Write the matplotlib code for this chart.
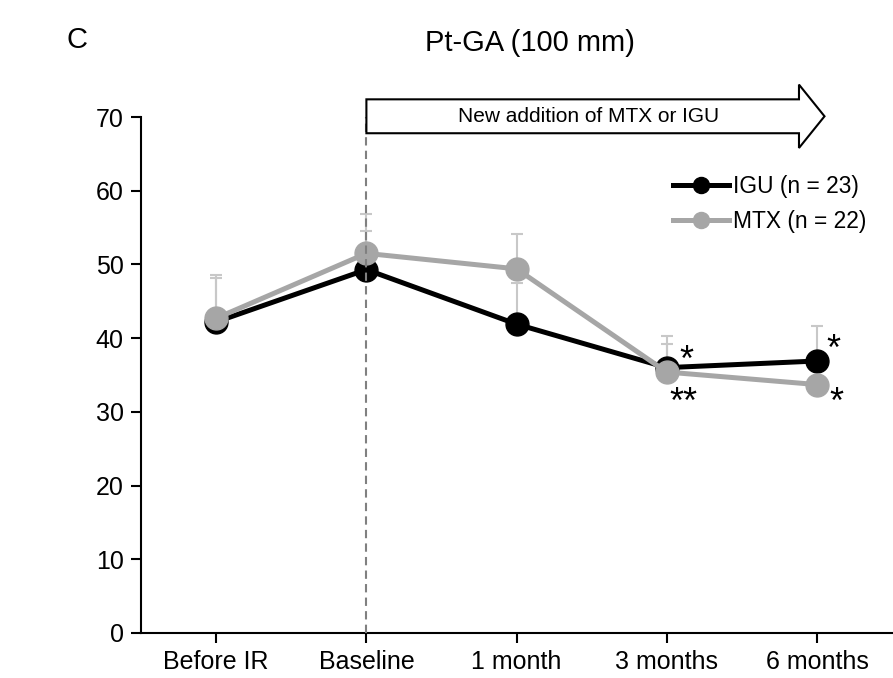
import numpy as np
import matplotlib
matplotlib.use('Agg')
import matplotlib.pyplot as plt
from matplotlib.patches import FancyArrow

plt.rcParams['font.family'] = ['Liberation Sans', 'DejaVu Sans']

months = ['Before IR', 'Baseline', '1 month', '3 months', '6 months']
igu_mean = [42.2, 49.3, 41.9, 36.0, 36.9]
igu_sd = [6.0, 5.2, 5.6, 4.3, 4.8]
mtx_mean = [42.7, 51.5, 49.4, 35.4, 33.7]
mtx_sd = [5.9, 5.3, 4.7, 3.8, 3.8]
igu_label = 'IGU (n = 23)'
mtx_label = 'MTX (n = 22)'
# significance marks: (x index, y, text)
marks = [(3.13, 36.8, '*'), (3.11, 31.1, '**'), (4.11, 38.3, '*'), (4.13, 31.2, '*')]

x = np.arange(len(months))
black = '#000000'
grey = '#a6a6a6'
errc = '#c8c8c8'

fig = plt.figure(figsize=(8.93, 6.78), dpi=100)
ax = fig.add_axes([0.158, 0.0664, 0.841, 0.761])

ax.errorbar(x, igu_mean, yerr=[np.zeros(5), igu_sd], fmt='none', ecolor=errc,
            elinewidth=1.5, capsize=4.5, capthick=1.5, zorder=1)
ax.errorbar(x, mtx_mean, yerr=[np.zeros(5), mtx_sd], fmt='none', ecolor=errc,
            elinewidth=1.5, capsize=4.5, capthick=1.5, zorder=1)
ax.plot(x, igu_mean, color=black, lw=3.6, marker='o', ms=16.5, label=igu_label, zorder=3)
ax.plot(x, mtx_mean, color=grey, lw=3.6, marker='o', ms=16.5, label=mtx_label, zorder=4)

ax.axvline(1, ymin=0, ymax=1, color='#808080', lw=1.5, ls=(0, (4, 2.5)), zorder=5)

arrow = FancyArrow(1.0, 70.1, 3.05, 0, width=4.6, head_width=8.6, head_length=0.17,
                   length_includes_head=True, facecolor='white', edgecolor='black',
                   lw=1.5, clip_on=False, zorder=6)
ax.add_patch(arrow)
ax.text(2.48, 70.1, 'New addition of MTX or IGU', ha='center', va='center',
        fontsize=15, zorder=7, clip_on=False)

for mx, my, s in marks:
    ax.text(mx, my, s, ha='center', va='center', fontsize=26)

ax.set_xlim(-0.5, 4.5)
ax.set_ylim(0, 70)
ax.set_yticks(range(0, 71, 10))
ax.set_xticks(x)
ax.set_xticklabels(months)
ax.tick_params(axis='both', labelsize=18, width=1.5, length=7, direction='out')
ax.tick_params(axis='x', pad=5)
ax.tick_params(axis='y', pad=5.5)
for side in ['top', 'right']:
    ax.spines[side].set_visible(False)
for side in ['left', 'bottom']:
    ax.spines[side].set_linewidth(1.5)

leg = ax.legend(loc='center left', bbox_to_anchor=(673 / 893, 1 - 204 / 678),
                bbox_transform=fig.transFigure, frameon=False, fontsize=16.4,
                handlelength=2.45, handletextpad=0.2, borderpad=0, borderaxespad=0,
                labelspacing=0.55, markerscale=0.7)

fig.text(66 / 893, 1 - 40 / 678, 'C', fontsize=21, ha='left', va='center')
fig.text(530 / 893, 1 - 43 / 678, 'Pt-GA (100 mm)', fontsize=21, ha='center', va='center')

fig.savefig('out.png', dpi=100)
